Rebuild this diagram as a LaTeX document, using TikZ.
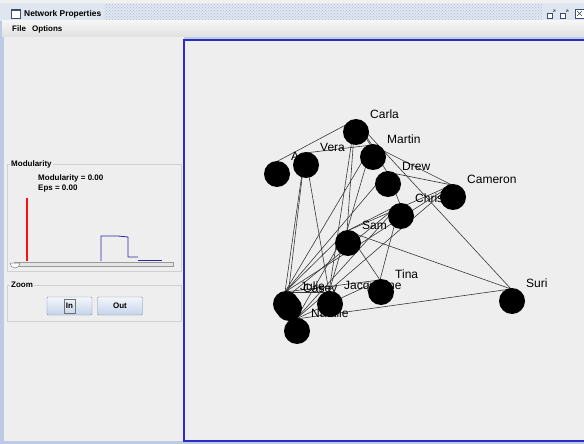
\documentclass[tikz,border=0pt]{standalone}
\usepackage{fontspec}
\setmainfont{Liberation Sans}
\usetikzlibrary{patterns}
\definecolor{panel}{HTML}{EEEEEE}
\definecolor{frame}{HTML}{BCCBE3}
\definecolor{titlebg}{HTML}{DFE6F0}
\definecolor{hatch}{HTML}{AEBFD8}
\definecolor{gborder}{HTML}{2B2BC8}
\definecolor{edgec}{HTML}{383838}
\definecolor{plotblue}{HTML}{2A2A9A}
\definecolor{plotred}{HTML}{FF1010}
\definecolor{sepc}{HTML}{D0D0D0}
\definecolor{btnborder}{HTML}{7D8FB0}
\definecolor{btntop}{HTML}{F4F7FB}
\definecolor{btnbot}{HTML}{C4D3EA}
\definecolor{iconc}{HTML}{3C4C70}
\tikzset{
  ui/.style={font=\fontsize{8}{9}\selectfont\bfseries, inner sep=0pt},
  vertex/.style={circle, fill=black, minimum size=26pt, inner sep=0pt},
  lab/.style={anchor=west, inner sep=0pt, font=\fontsize{12}{12}\selectfont},
  link/.style={draw=edgec, line width=0.6pt},
  btn/.style={draw=btnborder, top color=btntop, bottom color=btnbot, rounded corners=1pt,
              minimum width=45pt, minimum height=18pt, inner sep=0pt,
              font=\fontsize{8}{9}\selectfont\bfseries},
  titled/.style={ui, fill=panel, inner sep=1pt, anchor=west},
}
\begin{document}
\begin{tikzpicture}[x=1pt,y=-1pt]
\useasboundingbox (0,0) rectangle (584,444);
% window frame
\fill[frame] (0,0) rectangle (584,444);
\fill[white!94!black] (0,0) rectangle (584,3);
% title bar
\fill[titlebg] (0,3) rectangle (584,21);
\fill[pattern=crosshatch dots, pattern color=hatch] (104,4) rectangle (542,20);
\draw[iconc, fill=white, line width=0.6pt] (11,9) rectangle (20,18);
\fill[iconc] (11,9) rectangle (20,11);
\node[anchor=west, inner sep=0pt, font=\fontsize{8.4}{9}\selectfont\bfseries] (title) at (24,14) {Network Properties};
% window buttons
\draw[iconc, fill=white, line width=0.5pt] (547,13) rectangle (552,18);
\draw[iconc, line width=0.5pt] (553,12) -- (555,10) (553,10) -- (555,10) -- (555,12);
\draw[iconc, fill=white, line width=0.5pt] (560,13) rectangle (565,18);
\draw[iconc, line width=0.5pt] (566,12) -- (568,10) (566,10) -- (568,10) -- (568,12);
\draw[iconc, fill=white, line width=0.5pt] (575,9) rectangle (584,18);
\draw[iconc, line width=0.6pt] (577,11) -- (582,16) (582,11) -- (577,16);
% menu bar
\fill[top color=white!96!black, bottom color=white!88!black] (2,21) rectangle (584,37);
\node[ui, anchor=west] (mfile) at (12,29) {File};
\node[ui, anchor=west] (mopt) at (32,29) {Options};
% left panel
\fill[panel] (4,37) rectangle (184,441);
% modularity section
\draw[sepc, line width=0.5pt] (7,164) rectangle (181,271);
\node[titled] (modtitle) at (10,164) {Modularity};
\node[ui, anchor=west] (modval) at (38,178) {Modularity = 0.00};
\node[ui, anchor=west] (epsval) at (38,189) {Eps = 0.00};
\fill[plotred] (26.3,198) rectangle (27.7,261);
\draw[plotblue, line width=0.8pt] (101,261) -- (101,236) -- (118,236) -- (128,237) -- (128,257) -- (138,257);
\draw[plotblue, line width=0.8pt] (138,260) -- (162,260);
\draw[draw=black!40, fill=black!10, line width=0.5pt] (14,262) rectangle (173,266);
\draw[draw=black!50, fill=white, line width=0.5pt] (10,263) -- (20,263) arc[start angle=0, end angle=-180, radius=5pt] -- cycle;
% zoom section
\draw[sepc, line width=0.5pt] (7,285) rectangle (181,321);
\node[titled] (zoomtitle) at (10,285) {Zoom};
\node[btn] (inbtn) at (69.5,306) {In};
\node[btn] (outbtn) at (120,306) {Out};
\draw[black!55, line width=0.4pt] (64,299) rectangle (75,313);
% graph panel
\fill[panel] (184,40) rectangle (584,441);
\draw[gborder, line width=2pt] (585,40) -- (184,40) -- (184,441) -- (585,441);
% graph node anchors
\foreach \n/\x/\y in {a/276/162, carla/355/120, vera/305/153, martin/372/145, drew/387/172,
  cameron/452/185, chris/400/204, sam/347/231, tina/380/280, jacq/329/292, julie/285/292,
  casey/288/296, natalie/296/319, suri/511/289}
  \coordinate (\n) at (\x,\y);
% edges
\foreach \u/\v in {carla/a, carla/martin, carla/drew, carla/sam, carla/jacq, carla/suri,
  vera/martin, vera/julie, vera/casey, vera/jacq,
  martin/cameron, martin/julie, martin/jacq,
  drew/cameron, drew/chris, drew/julie,
  cameron/julie, cameron/natalie, cameron/sam,
  chris/tina, chris/sam, chris/natalie, chris/casey,
  sam/suri, sam/tina, sam/julie, sam/natalie,
  julie/tina, julie/jacq, natalie/suri, natalie/tina}
  \draw[link] (\u) -- (\v);
% labels
\foreach \n/\t in {a/A, carla/Carla, vera/Vera, martin/Martin, drew/Drew, cameron/Cameron,
  chris/Chris, sam/Sam, tina/Tina, jacq/Jacqueline, julie/Julie, casey/Casey,
  natalie/Natalie, suri/Suri}
  \path (\n) ++(15,-6) node[lab] (\n-lab) {\t};
% circles
\foreach \n in {a, carla, vera, martin, drew, cameron, chris, sam, tina, jacq, julie, casey, natalie, suri}
  \path (\n) ++(1,12) node[vertex] (\n-dot) {};
\end{tikzpicture}
\end{document}
